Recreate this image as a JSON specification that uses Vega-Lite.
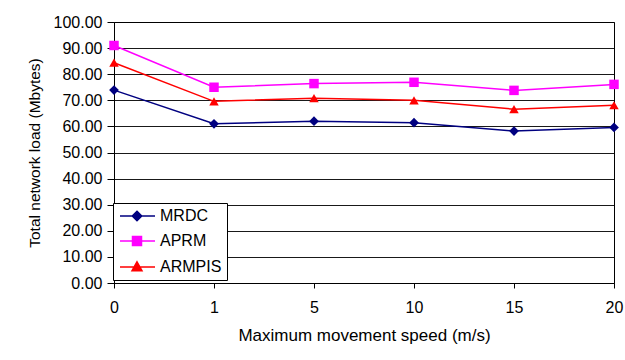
{
  "$schema": "https://vega.github.io/schema/vega-lite/v6.json",
  "autosize": {"type": "none"},
  "padding": {"left": 114, "top": 22, "right": 11, "bottom": 77},
  "width": 500,
  "height": 261,
  "background": "white",
  "config": {
    "font": "Liberation Sans",
    "view": {"stroke": "#000", "strokeWidth": 1},
    "axis": {"labelFont": "Liberation Sans", "titleFont": "Liberation Sans", "labelColor": "#000", "titleColor": "#000", "titleFontWeight": "normal", "domainColor": "#000", "tickColor": "#000", "labelFontSize": 16}
  },
  "data": {"values": [
    {"speed": 0, "series": "MRDC", "load": 73.9},
    {"speed": 1, "series": "MRDC", "load": 61.0},
    {"speed": 5, "series": "MRDC", "load": 62.0},
    {"speed": 10, "series": "MRDC", "load": 61.4},
    {"speed": 15, "series": "MRDC", "load": 58.2},
    {"speed": 20, "series": "MRDC", "load": 59.6},
    {"speed": 0, "series": "APRM", "load": 91.0},
    {"speed": 1, "series": "APRM", "load": 75.0},
    {"speed": 5, "series": "APRM", "load": 76.4},
    {"speed": 10, "series": "APRM", "load": 76.9},
    {"speed": 15, "series": "APRM", "load": 73.8},
    {"speed": 20, "series": "APRM", "load": 76.1},
    {"speed": 0, "series": "ARMPIS", "load": 84.4},
    {"speed": 1, "series": "ARMPIS", "load": 69.6},
    {"speed": 5, "series": "ARMPIS", "load": 70.8},
    {"speed": 10, "series": "ARMPIS", "load": 70.0},
    {"speed": 15, "series": "ARMPIS", "load": 66.6},
    {"speed": 20, "series": "ARMPIS", "load": 68.1}
  ]},
  "encoding": {
    "x": {"field": "speed", "type": "ordinal", "scale": {"type": "point", "padding": 0},
      "axis": {"title": "Maximum movement speed (m/s)", "titleFontSize": 17, "labelAngle": 0, "tickSize": 5, "labelPadding": 11, "titlePadding": 12, "grid": false}},
    "y": {"field": "load", "type": "quantitative", "scale": {"domain": [0, 100], "nice": false},
      "axis": {"title": "Total network load (Mbytes)", "titleFontSize": 15.5, "format": ".2f", "values": [0,10,20,30,40,50,60,70,80,90,100], "tickSize": 7, "labelPadding": 5, "titlePadding": 11, "grid": true, "gridColor": "#000", "gridOpacity": 0.9}},
    "color": {"field": "series", "type": "nominal",
      "scale": {"domain": ["MRDC", "APRM", "ARMPIS"], "range": ["#000080", "#FF00FF", "#FF0000"]},
      "legend": {"title": null, "orient": "none", "legendX": -1, "legendY": 181,
        "strokeColor": "#000", "fillColor": "#fff", "padding": 5,
        "labelFontSize": 16, "labelFont": "Liberation Sans", "labelColor": "#000",
        "symbolSize": 100, "symbolStrokeWidth": 1.5, "symbolOpacity": 1, "rowPadding": 9, "labelOffset": 26,
        "encode": {"symbols": {"update": {"fill": {"scale": "color", "field": "value"}, "stroke": {"scale": "color", "field": "value"}, "opacity": {"value": 1}}}}}
    }
  },
  "layer": [
    {"mark": {"type": "line", "strokeWidth": 1.5}},
    {"transform": [{"filter": "datum.series == 'MRDC'"}], "mark": {"type": "point", "filled": true, "shape": "diamond", "size": 95, "opacity": 1}},
    {"transform": [{"filter": "datum.series == 'APRM'"}], "mark": {"type": "point", "filled": true, "shape": "square", "size": 90, "opacity": 1}},
    {"transform": [{"filter": "datum.series == 'ARMPIS'"}], "mark": {"type": "point", "filled": true, "shape": "triangle-up", "size": 90, "opacity": 1}},
    {"mark": {"type": "point", "filled": false, "opacity": 0},
      "encoding": {"shape": {"field": "series", "type": "nominal",
        "scale": {"domain": ["MRDC", "APRM", "ARMPIS"], "range": [
          "M-1.2,0H5.8M2.2,-0.95L3.15,0L2.2,0.95L1.25,0ZM18.6,0",
          "M-1.2,0H5.8M1.3,-0.9H3.1V0.9H1.3ZM18.6,0",
          "M-1.2,0H5.8M2.2,-1.05L3.2,0.75H1.2ZM18.6,0"]},
        "legend": {"title": null}}}}
  ]
}
